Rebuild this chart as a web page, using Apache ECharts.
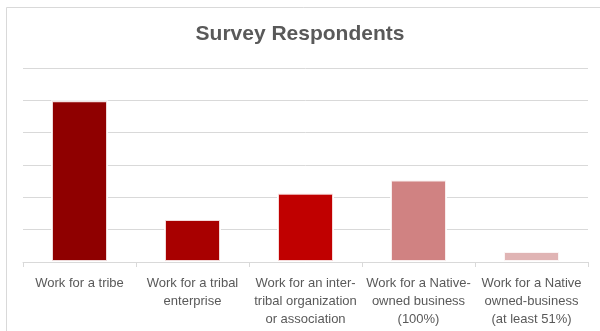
<!DOCTYPE html>
<html>
<head>
<meta charset="utf-8">
<script src="https://cdn.jsdelivr.net/npm/echarts@6/dist/echarts.min.js"></script>
<style>html,body{margin:0;padding:0;background:#fff}#c{width:600px;height:331px}</style>
</head>
<body>
<div id="c"></div>
<script>
const titleText = 'Survey Respondents';
const categories = [
  'Work for a tribe',
  'Work for a tribal\nenterprise',
  'Work for an inter-\ntribal organization\nor association',
  'Work for a Native-\nowned business\n(100%)',
  'Work for a Native\nowned-business\n(at least 51%)'
];
const values = [50, 13.3, 21.4, 25.5, 3.4];
const colors = ['#8f0000', '#a80000', '#c00000', '#d08282', '#e0b4b4'];

const chart = echarts.init(document.getElementById('c'), null, {renderer: 'canvas'});
chart.setOption({
  animation: false,
  backgroundColor: '#fff',
  graphic: [{
    type: 'rect', shape: {x: 6.5, y: 7.5, width: 620, height: 340},
    style: {fill: 'none', stroke: '#d9d9d9', lineWidth: 1}, silent: true
  }],
  title: {
    text: titleText, left: 'center', top: 19,
    textStyle: {fontFamily: 'Liberation Sans', fontWeight: 'bold', fontSize: 21, color: '#595959'}
  },
  grid: {left: 23, right: 12, top: 68, bottom: 69, containLabel: false},
  xAxis: {
    type: 'category', data: categories, boundaryGap: true,
    axisLine: {lineStyle: {color: '#d9d9d9', width: 1}},
    axisTick: {show: true, length: 5, lineStyle: {color: '#d9d9d9'}},
    axisLabel: {interval: 0, margin: 12, color: '#595959', fontFamily: 'Liberation Sans', fontSize: 13, lineHeight: 18}
  },
  yAxis: {
    type: 'value', min: 0, max: 60, interval: 10,
    axisLabel: {show: false}, axisLine: {show: false}, axisTick: {show: false},
    splitLine: {lineStyle: {color: '#d9d9d9', width: 1}}
  },
  series: [{
    type: 'bar', barWidth: 57,
    data: values.map((v, i) => ({value: v, itemStyle: {color: colors[i]}})),
    itemStyle: {borderColor: 'rgba(255,255,255,0.85)', borderWidth: 2}
  }]
});
</script>
</body>
</html>
